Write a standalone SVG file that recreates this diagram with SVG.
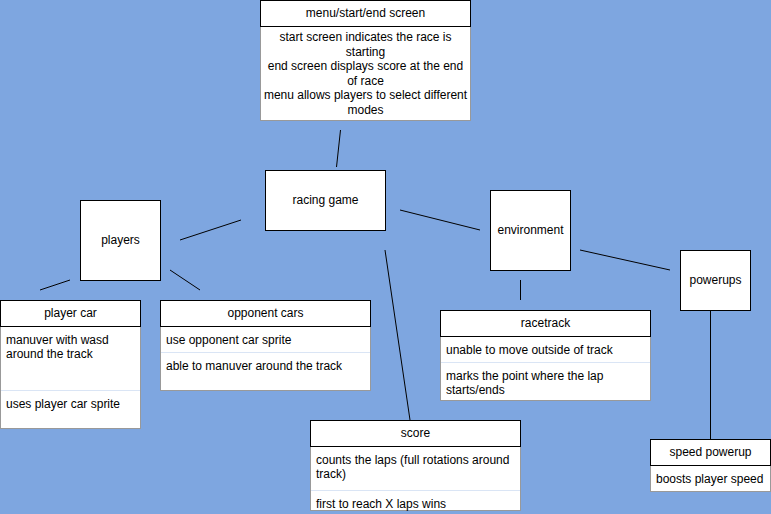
<svg xmlns="http://www.w3.org/2000/svg" width="771" height="514" viewBox="0 0 771 514">
<style>
text{font-family:"Liberation Sans",Arial,sans-serif;font-size:12px;fill:#000;dominant-baseline:central}
.c{text-anchor:middle}
.box{fill:#fff;stroke:#000;stroke-width:1}
.body{fill:#fff;stroke:#999;stroke-width:1}
.sep{stroke:#dae5f5;stroke-width:1}
.conn line{stroke:#000;stroke-width:1}
</style>
<rect x="0" y="0" width="771" height="514" fill="#7EA6E0"/>
<g class="conn">
<line x1="340.5" y1="130" x2="336.5" y2="167"/>
<line x1="180" y1="240" x2="241" y2="220"/>
<line x1="40" y1="290" x2="70" y2="280"/>
<line x1="170" y1="270" x2="200" y2="290"/>
<line x1="385" y1="250" x2="410" y2="420"/>
<line x1="400" y1="210" x2="480" y2="230"/>
<line x1="520.5" y1="280" x2="520.5" y2="300"/>
<line x1="580" y1="250" x2="670" y2="270"/>
<line x1="710.5" y1="310" x2="710.5" y2="439"/>
</g>
<g id="menu">
<rect class="body" x="260.5" y="26.5" width="210" height="94"/>
<rect class="box" x="260.5" y="0.5" width="210" height="26"/>
<text class="c" x="365.5" y="13">menu/start/end screen</text>
<text class="c" x="365.5" y="37">start screen indicates the race is</text>
<text class="c" x="365.5" y="51.5">starting</text>
<text class="c" x="365.5" y="66">end screen displays score at the end</text>
<text class="c" x="365.5" y="80.5">of race</text>
<text class="c" x="365.5" y="95">menu allows players to select different</text>
<text class="c" x="365.5" y="109.5">modes</text>
</g>
<g id="racing">
<rect class="box" x="265.5" y="170.5" width="120" height="60"/>
<text class="c" x="325.5" y="200">racing game</text>
</g>
<g id="players">
<rect class="box" x="80.5" y="200.5" width="80" height="80"/>
<text class="c" x="120.5" y="240">players</text>
</g>
<g id="environment">
<rect class="box" x="490.5" y="190.5" width="80" height="80"/>
<text class="c" x="530.5" y="230">environment</text>
</g>
<g id="powerups">
<rect class="box" x="680.5" y="250.5" width="70" height="60"/>
<text class="c" x="715.5" y="280">powerups</text>
</g>
<g id="playercar">
<rect class="body" x="0.5" y="326.5" width="140" height="102"/>
<line class="sep" x1="1" y1="390.5" x2="140" y2="390.5"/>
<rect class="box" x="0.5" y="300.5" width="140" height="26"/>
<text class="c" x="70.5" y="313">player car</text>
<text x="6" y="340">manuver with wasd</text>
<text x="6" y="354">around the track</text>
<text x="6" y="404">uses player car sprite</text>
</g>
<g id="opponent">
<rect class="body" x="160.5" y="326.5" width="210" height="64"/>
<line class="sep" x1="161" y1="352.5" x2="370" y2="352.5"/>
<rect class="box" x="160.5" y="300.5" width="210" height="26"/>
<text class="c" x="265.5" y="313">opponent cars</text>
<text x="166" y="340">use opponent car sprite</text>
<text x="166" y="366">able to manuver around the track</text>
</g>
<g id="racetrack">
<rect class="body" x="440.5" y="336.5" width="210" height="64"/>
<line class="sep" x1="441" y1="362.5" x2="650" y2="362.5"/>
<rect class="box" x="440.5" y="310.5" width="210" height="26"/>
<text class="c" x="545.5" y="323">racetrack</text>
<text x="446" y="350">unable to move outside of track</text>
<text x="446" y="376">marks the point where the lap</text>
<text x="446" y="390">starts/ends</text>
</g>
<g id="score">
<rect class="body" x="310.5" y="446.5" width="210" height="64"/>
<line class="sep" x1="311" y1="490.5" x2="520" y2="490.5"/>
<rect class="box" x="310.5" y="420.5" width="210" height="26"/>
<text class="c" x="415.5" y="433">score</text>
<text x="316" y="460">counts the laps (full rotations around</text>
<text x="316" y="474">track)</text>
<text x="316" y="504">first to reach X laps wins</text>
</g>
<g id="speed">
<rect class="body" x="650.5" y="465.5" width="120" height="26"/>
<rect class="box" x="650.5" y="439.5" width="120" height="26"/>
<text class="c" x="710.5" y="452">speed powerup</text>
<text x="656" y="479">boosts player speed</text>
</g>
</svg>
